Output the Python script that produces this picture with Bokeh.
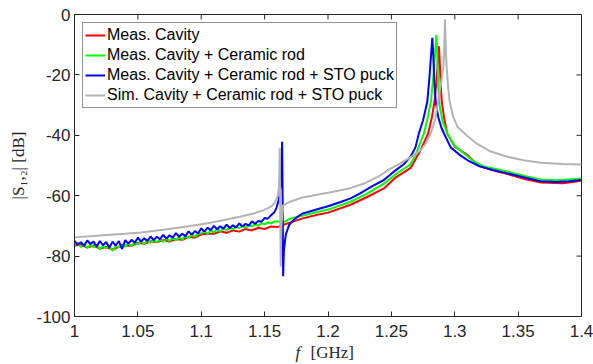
from bokeh.plotting import figure
from bokeh.models import Range1d, FixedTicker, Label
from bokeh.embed import file_html
from bokeh.resources import INLINE

# ---------------- data ----------------
x_ticks = [1.0, 1.05, 1.1, 1.15, 1.2, 1.25, 1.3, 1.35, 1.4]
x_tick_labels = ["1", "1.05", "1.1", "1.15", "1.2", "1.25", "1.3", "1.35", "1.4"]
y_ticks = [-100, -80, -60, -40, -20, 0]
y_tick_labels = ["-100", "-80", "-60", "-40", "-20", "0"]

series_names = ["Meas. Cavity",
                "Meas. Cavity + Ceramic rod",
                "Meas. Cavity + Ceramic rod + STO puck",
                "Sim. Cavity + Ceramic rod + STO puck"]
series_colors = ["#ff0000", "#00ff00", "#0000ff", "#b3b3b3"]

f_red = [1.000, 1.005, 1.010, 1.015, 1.020, 1.025, 1.030, 1.035, 1.040, 1.045,
         1.050, 1.055, 1.060, 1.065, 1.070, 1.075, 1.080, 1.085, 1.090, 1.095,
         1.100, 1.105, 1.110, 1.115, 1.120, 1.125, 1.130, 1.135, 1.140, 1.145,
         1.150, 1.155, 1.160, 1.165, 1.170, 1.180, 1.1915, 1.200, 1.2178, 1.230,
         1.2441, 1.2533, 1.2652, 1.2731, 1.2790, 1.2820, 1.2842, 1.2856, 1.2866, 1.2872,
         1.2875, 1.2879, 1.2884, 1.2890, 1.2898, 1.2915, 1.2941, 1.3000, 1.3100, 1.3191,
         1.3300, 1.3415, 1.3550, 1.3679, 1.3850, 1.3950, 1.4000]
db_red = [-76.6, -76.2, -77.2, -76.5, -77.5, -77.0, -77.8, -76.9, -76.5, -76.6,
          -75.6, -75.9, -75.1, -75.4, -74.7, -75.2, -74.4, -74.6, -73.6, -73.9,
          -72.8, -72.6, -72.6, -71.8, -72.3, -71.5, -71.9, -71.0, -71.5, -70.6,
          -71.0, -70.2, -70.4, -69.6, -68.9, -67.5, -66.3, -65.6, -63.0, -60.6,
          -57.6, -54.0, -50.8, -44.9, -39.4, -34.0, -28.4, -22.0, -16.0, -12.0,
          -10.5, -13.0, -18.0, -24.0, -29.0, -34.0, -39.4, -43.8, -46.5, -50.2,
          -51.6, -52.8, -54.5, -55.6, -55.9, -55.4, -55.0]

f_green = [1.0000, 1.0025, 1.0050, 1.0075, 1.0100, 1.0125, 1.0150, 1.0175, 1.0200, 1.0225,
           1.0250, 1.0275, 1.0300, 1.0325, 1.0350, 1.0375, 1.0400, 1.0425, 1.0450, 1.0475,
           1.0500, 1.0525, 1.0550, 1.0575, 1.0600, 1.0625, 1.0650, 1.0675, 1.0700, 1.0725,
           1.0750, 1.0775, 1.0800, 1.0825, 1.0850, 1.0875, 1.0900, 1.0925, 1.0950, 1.0975,
           1.1000, 1.1025, 1.1050, 1.1075, 1.1100, 1.1125, 1.1150, 1.1175, 1.1200, 1.1225,
           1.1250, 1.1275, 1.1300, 1.1325, 1.1350, 1.1375, 1.1400, 1.1425, 1.1450, 1.1475,
           1.1500, 1.1525, 1.1550, 1.1575, 1.160, 1.165, 1.170, 1.180, 1.1915, 1.200,
           1.2178, 1.230, 1.2441, 1.2533, 1.2600, 1.2652, 1.2700, 1.2757, 1.2790, 1.2813,
           1.2830, 1.2843, 1.2851, 1.2855, 1.2859, 1.2864, 1.2870, 1.2880, 1.2905, 1.2942,
           1.3000, 1.3073, 1.3152, 1.3231, 1.3415, 1.3550, 1.3679, 1.3800, 1.3900, 1.4000]
db_green = [-76.4, -75.7, -77.0, -76.0, -77.3, -76.2, -77.1, -76.3, -77.8, -76.6,
            -77.4, -76.8, -78.3, -76.7, -77.0, -76.2, -76.9, -75.8, -76.6, -75.5,
            -76.2, -75.1, -75.9, -74.9, -75.6, -74.6, -75.4, -74.4, -75.3, -74.2,
            -75.0, -74.0, -74.8, -73.7, -74.5, -73.3, -74.0, -72.9, -73.6, -72.5,
            -72.4, -71.7, -72.6, -71.5, -72.2, -71.0, -71.8, -70.8, -71.4, -70.5,
            -71.1, -70.2, -70.8, -70.0, -70.6, -69.7, -70.2, -69.4, -69.9, -69.1,
            -69.5, -68.8, -69.2, -68.6, -68.5, -68.8, -67.6, -66.6, -65.4, -64.6,
            -62.0, -59.5, -56.0, -53.0, -51.0, -49.6, -45.5, -39.4, -33.5, -28.4,
            -21.0, -14.0, -9.5, -6.8, -10.0, -16.0, -24.0, -30.0, -35.5, -39.4,
            -43.5, -46.0, -48.7, -50.3, -52.0, -53.5, -54.6, -54.9, -54.6, -54.3]

f_blue = [1.0000, 1.0025, 1.0050, 1.0075, 1.0100, 1.0125, 1.0150, 1.0175, 1.0200, 1.0225,
          1.0250, 1.0275, 1.0300, 1.0325, 1.0350, 1.0375, 1.0400, 1.0425, 1.0450, 1.0475,
          1.0500, 1.0525, 1.0550, 1.0575, 1.0600, 1.0625, 1.0650, 1.0675, 1.0700, 1.0725,
          1.0750, 1.0775, 1.0800, 1.0825, 1.0850, 1.0875, 1.0900, 1.0925, 1.0950, 1.0975,
          1.1000, 1.1025, 1.1050, 1.1075, 1.1100, 1.1125, 1.1150, 1.1175, 1.1200, 1.1225,
          1.1250, 1.1275, 1.1300, 1.1325, 1.1350, 1.1375, 1.1400, 1.1425, 1.1450, 1.1475,
          1.1500, 1.1525, 1.1550, 1.1575, 1.1593, 1.1611, 1.1625, 1.1632, 1.1638, 1.1642,
          1.1646, 1.1652, 1.1667, 1.1694, 1.1740, 1.1799, 1.1850, 1.1915, 1.2000, 1.2100,
          1.2178, 1.2250, 1.2350, 1.2441, 1.2533, 1.2600, 1.2652, 1.2690, 1.2717, 1.2750,
          1.2783, 1.2800, 1.2812, 1.2819, 1.2823, 1.2828, 1.2833, 1.2840, 1.2850, 1.2870,
          1.2895, 1.2915, 1.2968, 1.3033, 1.3110, 1.3191, 1.3300, 1.3415, 1.3550, 1.3679,
          1.3800, 1.3900, 1.4000]
db_blue = [-75.0, -76.2, -75.4, -76.6, -74.8, -76.0, -75.2, -76.9, -75.0, -76.4,
           -75.3, -77.2, -75.2, -76.5, -75.0, -77.6, -74.7, -75.9, -74.6, -75.6,
           -73.9, -75.2, -74.1, -75.0, -73.5, -74.7, -73.6, -74.4, -73.0, -74.2,
           -73.1, -73.9, -72.4, -73.6, -72.6, -73.4, -71.8, -72.9, -71.7, -72.5,
           -70.8, -71.9, -70.6, -71.4, -70.0, -71.1, -70.1, -70.9, -69.6, -70.7,
           -69.8, -70.5, -69.2, -70.2, -69.3, -69.9, -68.5, -69.3, -68.4, -68.6,
           -67.4, -67.6, -66.5, -65.6, -64.1, -61.4, -57.0, -51.0, -42.1, -60.0,
           -86.7, -78.0, -72.9, -69.6, -67.6, -65.9, -65.3, -64.5, -63.5, -62.1,
           -60.9, -59.3, -56.8, -54.8, -51.6, -49.5, -47.0, -44.0, -39.4, -35.0,
           -29.0, -21.0, -14.0, -10.0, -7.7, -11.0, -16.0, -23.0, -29.0, -34.0,
           -37.5, -39.4, -44.0, -46.3, -48.5, -50.2, -51.5, -52.6, -54.0, -55.2,
           -55.5, -55.2, -54.8]

f_gray = [1.000, 1.020, 1.040, 1.0524, 1.070, 1.090, 1.1051, 1.120, 1.1314, 1.1420,
          1.1498, 1.1550, 1.1577, 1.1603, 1.1612, 1.1617, 1.1619, 1.1623, 1.1627, 1.1632,
          1.1646, 1.1700, 1.1799, 1.2000, 1.2178, 1.2300, 1.2400, 1.2494, 1.2573, 1.2650,
          1.2731, 1.2770, 1.2810, 1.2845, 1.2870, 1.2892, 1.2910, 1.2917, 1.2921, 1.2923,
          1.2926, 1.2931, 1.2936, 1.2947, 1.2958, 1.2985, 1.3021, 1.3093, 1.3171, 1.3280,
          1.3415, 1.3550, 1.3679, 1.3850, 1.4000]
db_gray = [-73.8, -73.2, -72.6, -72.2, -71.3, -70.1, -69.1, -67.9, -66.9, -65.8,
           -64.7, -63.6, -62.5, -60.3, -57.5, -52.0, -44.3, -65.0, -83.4, -70.0,
           -63.2, -62.0, -60.6, -59.0, -57.5, -55.7, -53.6, -51.0, -49.2, -47.3,
           -44.9, -42.8, -39.4, -35.0, -28.4, -22.5, -17.4, -11.0, -5.0, -1.6,
           -6.0, -13.0, -17.4, -23.5, -28.4, -33.5, -37.2, -40.0, -42.7, -45.3,
           -47.1, -48.3, -49.1, -49.5, -49.7]

# ---------------- figure ----------------
AX = "#262626"
X0, X1, Y0, Y1 = 1.0, 1.4, -100, 0
p = figure(width=593, height=364, output_backend="svg", toolbar_location=None,
           x_range=Range1d(X0, X1), y_range=Range1d(Y0, Y1),
           min_border_left=74, min_border_right=12, min_border_top=14,
           min_border_bottom=48)
p.background_fill_color = "white"
p.border_fill_color = "white"
p.outline_line_color = AX
p.outline_line_width = 1
p.xgrid.visible = False
p.ygrid.visible = False

xs = [f_red, f_green, f_blue, f_gray]
ys = [db_red, db_green, db_blue, db_gray]
for fx, dy, name, col in zip(xs, ys, series_names, series_colors):
    p.line(fx, dy, line_color=col, line_width=2, legend_label=name)

# inward ticks on top and right edges (box), length ~5 px
tick_dy = 5 / 3.02
tick_dx = 5 / 1266.0
p.segment(x0=x_ticks, y0=[Y1] * len(x_ticks), x1=x_ticks,
          y1=[Y1 - tick_dy] * len(x_ticks), line_color=AX, line_width=1)
p.segment(x0=[X1] * len(y_ticks), y0=y_ticks, x1=[X1 - tick_dx] * len(y_ticks),
          y1=y_ticks, line_color=AX, line_width=1)

for ax, ticks, labels in ((p.xaxis[0], x_ticks, x_tick_labels),
                          (p.yaxis[0], y_ticks, y_tick_labels)):
    ax.ticker = FixedTicker(ticks=ticks)
    ax.major_label_overrides = {t: l for t, l in zip(ticks, labels)}
    ax.major_tick_in = 5
    ax.major_tick_out = 0
    ax.minor_tick_in = 0
    ax.minor_tick_out = 0
    ax.axis_line_color = AX
    ax.major_tick_line_color = AX
    ax.major_label_text_color = AX
    ax.major_label_text_font = "Liberation Sans"
    ax.major_label_text_font_size = "17px"

p.xaxis[0].major_label_standoff = 8
p.yaxis[0].major_label_standoff = 4

p.yaxis[0].axis_label = "|S\u2081,\u2082| [dB]"
p.yaxis[0].axis_label_text_font = "Liberation Serif"
p.yaxis[0].axis_label_text_font_style = "normal"
p.yaxis[0].axis_label_text_font_size = "17px"
p.yaxis[0].axis_label_text_color = AX
p.yaxis[0].axis_label_standoff = 5

# x-axis label: italic f + upright [GHz]; both positioned in data units below the
# frame, held in side panels (which are not clipped to the frame)
p.add_layout(Label(x=1.1743, y=-112.0, text="f",
                   text_font="Liberation Serif", text_font_style="italic",
                   text_font_size="17px", text_color=AX,
                   text_align="left", text_baseline="middle"), "left")
p.add_layout(Label(x=1.1862, y=-112.0, text="[GHz]",
                   text_font="Liberation Serif", text_font_size="17px",
                   text_color=AX, text_align="left", text_baseline="middle"), "below")

lg = p.legend[0]
lg.location = "top_left"
lg.margin = 8
lg.padding = 2
lg.spacing = 0
lg.glyph_width = 20
lg.glyph_height = 20
lg.label_height = 20
lg.label_standoff = 2
lg.label_text_font = "Liberation Sans"
lg.label_text_font_size = "16px"
lg.label_text_color = "black"
lg.border_line_color = AX
lg.border_line_width = 1
lg.background_fill_color = "white"
lg.background_fill_alpha = 1.0

open("out.html", "w").write(file_html(p, INLINE))
